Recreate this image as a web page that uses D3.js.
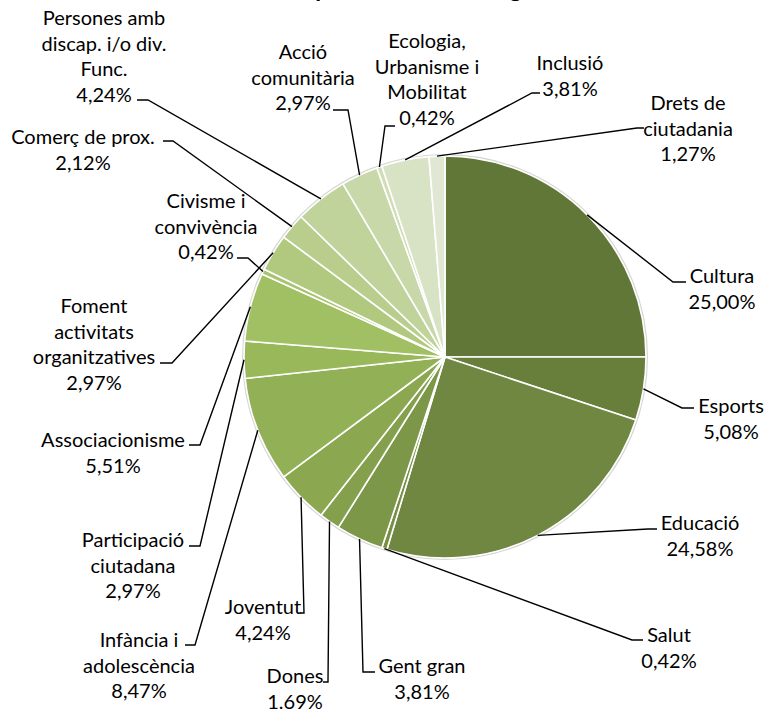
<!DOCTYPE html>
<html>
<head>
<meta charset="utf-8">
<script src="https://cdn.jsdelivr.net/npm/d3@7"></script>
<style>
  html, body { margin: 0; padding: 0; background: #ffffff; }
  svg { display: block; }
</style>
</head>
<body>
<div id="chart"></div>
<script>
// ---------------- DATA ----------------
const title = "Distribució per àmbit temàtic general";
const categories = [
  "Cultura", "Esports", "Educació", "Salut", "Gent gran", "Dones", "Joventut",
  "Infància i adolescència", "Participació ciutadana", "Associacionisme",
  "Civisme i convivència", "Foment activitats organitzatives", "Comerç de prox.",
  "Persones amb discap. i/o div. Func.", "Acció comunitària",
  "Ecologia, Urbanisme i Mobilitat", "Inclusió", "Drets de ciutadania"
];
const values = [25.00, 5.08, 24.58, 0.42, 3.81, 1.69, 4.24, 8.47, 2.97, 5.51,
                0.42, 2.97, 2.12, 4.24, 2.97, 0.42, 3.81, 1.27];
const valueLabels = ["25,00%", "5,08%", "24,58%", "0,42%", "3,81%", "1.69%", "4,24%",
                     "8,47%", "2,97%", "5,51%", "0,42%", "2,97%", "2,12%", "4,24%",
                     "2,97%", "0,42%", "3,81%", "1,27%"];
const nameLines = [
  ["Cultura"], ["Esports"], ["Educació"], ["Salut"], ["Gent gran"], ["Dones"], ["Joventut"],
  ["Infància i", "adolescència"], ["Participació", "ciutadana"], ["Associacionisme"],
  ["Civisme i", "convivència"], ["Foment", "activitats", "organitzatives"], ["Comerç de prox."],
  ["Persones amb", "discap. i/o div.", "Func."], ["Acció", "comunitària"],
  ["Ecologia,", "Urbanisme i", "Mobilitat"], ["Inclusió"], ["Drets de", "ciutadania"]
];

// ---------------- LAYOUT (label placement, px) ----------------
// cx: text centre, y: first baseline, elbow/end: leader line turn and tick end
const labelLayout = [
  { cx: 722, y: 283, elbow: [673, 282], end: [686, 282] },
  { cx: 731, y: 413, elbow: [682, 408], end: [694, 408] },
  { cx: 700, y: 530, elbow: [648, 529], end: [657, 529] },
  { cx: 669, y: 642, elbow: [632, 640], end: [643, 640] },
  { cx: 422, y: 673, elbow: [363, 672], end: [375, 672] },
  { cx: 295, y: 683, elbow: [328, 682], end: [323, 682] },
  { cx: 263, y: 614, elbow: [304, 613], end: [300, 613] },
  { cx: 139, y: 647, elbow: [195, 645], end: [185, 645] },
  { cx: 133, y: 547, elbow: [200, 546], end: [189, 546] },
  { cx: 113, y: 447, elbow: [200, 445], end: [189, 445] },
  { cx: 206, y: 208, elbow: [248, 258], end: [237, 258] },
  { cx: 94,  y: 313, elbow: [172, 363], end: [160, 363] },
  { cx: 83,  y: 144, elbow: [173, 141], end: [163, 141] },
  { cx: 104, y: 25,  elbow: [148, 100], end: [137, 100] },
  { cx: 303, y: 59,  elbow: [348, 110], end: [333, 110] },
  { cx: 427, y: 48,  elbow: [385, 126], end: [395, 126] },
  { cx: 570, y: 70,  elbow: [532, 93],  end: [540, 93] },
  { cx: 688, y: 110, elbow: [637, 128], end: [644, 128] }
];

const W = 764, H = 712;
const center = [445, 357];
const R = 201;
const lineH = 25.6;
const fontFamily = "Lato, 'Noto Sans', sans-serif";
const fontSize = 20;

// ---------------- DRAW ----------------
const svg = d3.select("#chart").append("svg")
  .attr("width", W).attr("height", H)
  .attr("viewBox", `0 0 ${W} ${H}`);

// title (cut off at top, as in the reference)
svg.append("text")
  .attr("x", 390).attr("y", -3)
  .attr("text-anchor", "middle")
  .attr("font-family", fontFamily)
  .attr("font-size", 24)
  .attr("font-weight", "bold")
  .attr("fill", "#000")
  .text(title);

const n = values.length;
const colorScale = d3.scaleLinear()
  .domain([0, 0.5, 1])
  .range(["#617737", "#9dbc5c", "#e0e7d3"])
  .interpolate(d3.interpolateRgb);
const color = i => colorScale(i / (n - 1));

const pie = d3.pie().sort(null).value(d => d)(values);
const arc = d3.arc().innerRadius(0).outerRadius(R);
const edgeArc = d3.arc().innerRadius(R).outerRadius(R);

const g = svg.append("g").attr("transform", `translate(${center[0]},${center[1]})`);

// faint shadow rim
g.append("circle").attr("r", R + 1.2)
  .attr("fill", "none").attr("stroke", "#d6d6d6").attr("stroke-width", 1.6);

g.selectAll("path.slice").data(pie).join("path")
  .attr("class", "slice")
  .attr("d", arc)
  .attr("fill", (d, i) => color(i))
  .attr("stroke", "#ffffff")
  .attr("stroke-width", 1.6)
  .attr("stroke-linejoin", "round");

// leader lines
const leaders = svg.append("g");
pie.forEach((d, i) => {
  const c = edgeArc.centroid(d);
  const p0 = [center[0] + c[0], center[1] + c[1]];
  const L = labelLayout[i];
  leaders.append("path")
    .attr("d", d3.line()([p0, L.elbow, L.end]))
    .attr("fill", "none")
    .attr("stroke", "#000")
    .attr("stroke-width", 1.4);
});

// labels
const labels = svg.append("g")
  .attr("font-family", fontFamily)
  .attr("font-size", fontSize)
  .attr("fill", "#000")
  .attr("text-anchor", "middle");
categories.forEach((cat, i) => {
  const L = labelLayout[i];
  const lines = nameLines[i].concat([valueLabels[i]]);
  const t = labels.append("text").attr("x", L.cx).attr("y", L.y);
  lines.forEach((ln, k) => {
    t.append("tspan").attr("x", L.cx).attr("y", L.y + k * lineH).text(ln);
  });
});
</script>
</body>
</html>
